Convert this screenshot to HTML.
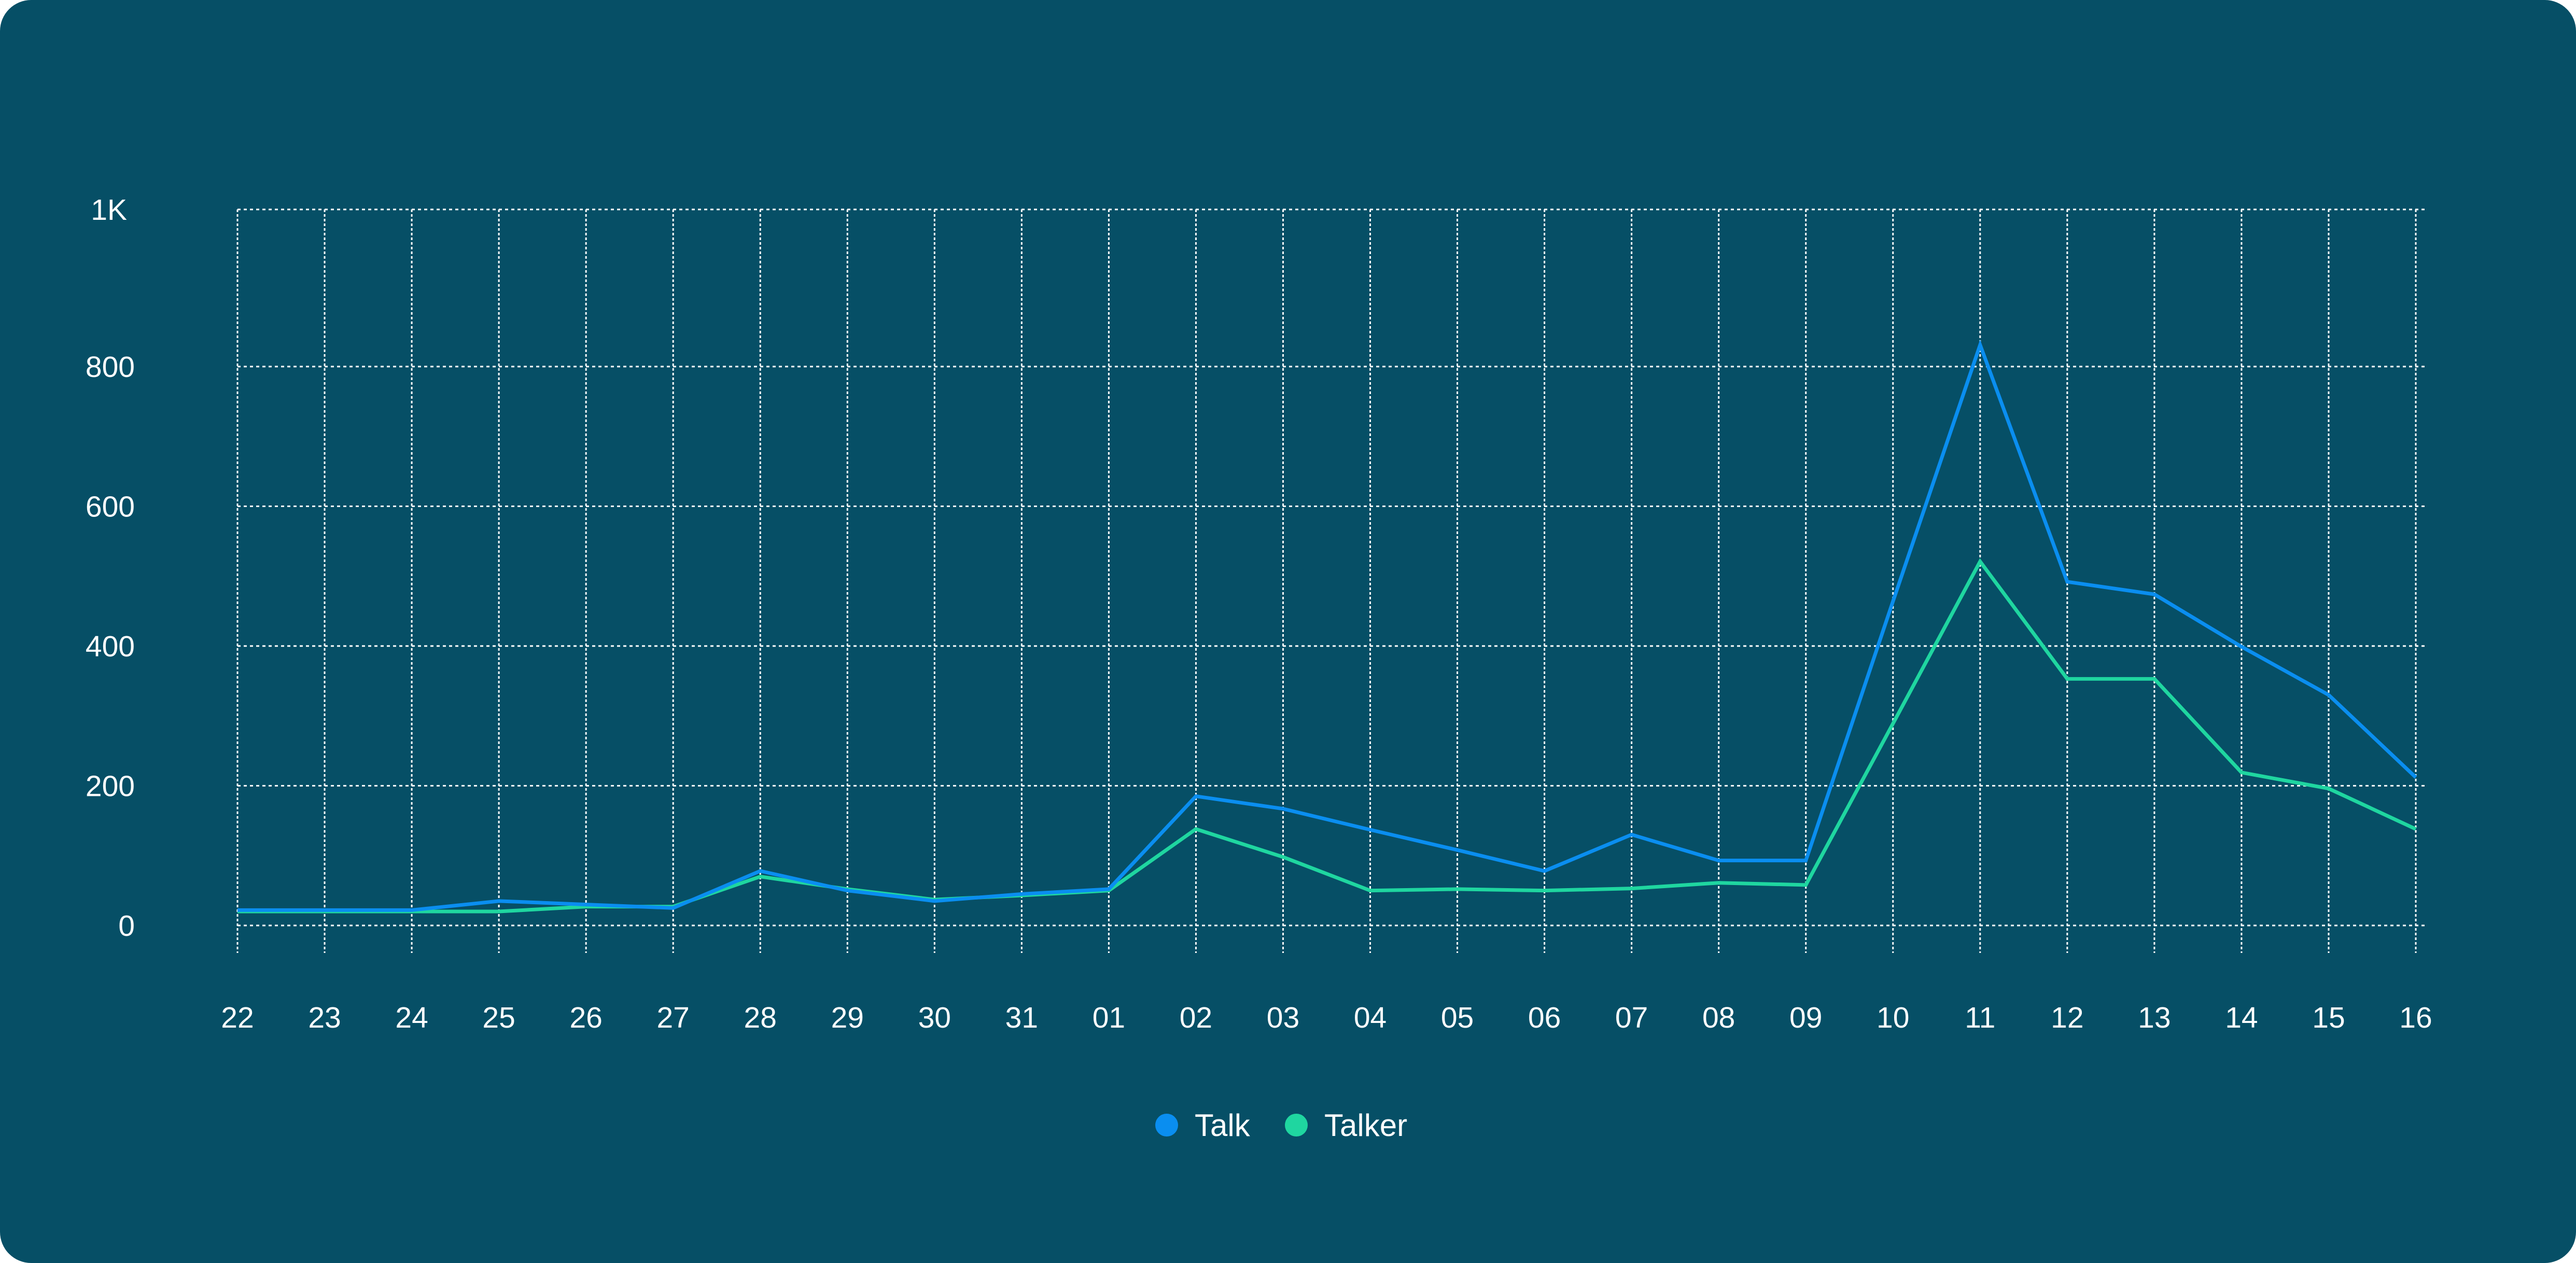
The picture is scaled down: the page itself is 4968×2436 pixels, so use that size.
<!DOCTYPE html>
<html><head><meta charset="utf-8"><style>
html,body{margin:0;padding:0;background:#fff;}
#card{position:absolute;left:0;top:0;width:4968px;height:2436px;background:#064f66;border-radius:60px;overflow:hidden;}
svg text{font-family:"Liberation Sans",sans-serif;fill:#fff;}
</style></head><body>
<div id="card">
<svg id="chart" width="4968" height="2436"></svg>
</div>
<script>
const categories=["22","23","24","25","26","27","28","29","30","31","01","02","03","04","05","06","07","08","09","10","11","12","13","14","15","16"];
const talkValues=[22,22,22,35,30,25,78,50,35,45,52,185,167,137,108,78,130,93,93,464,831,492,474,399,330,212];
const talkerValues=[20,20,20,20,27,27,70,52,37,43,50,138,98,50,52,50,53,61,58,289,521,353,353,219,196,138];
const yTicks=[0,200,400,600,800];
const yTickLabels=["0","200","400","600","800"];
(function(){
const NS="http://www.w3.org/2000/svg";
const svg=document.getElementById('chart');
const X0=458,X1=4659,Y0=1785,PX_PER_UNIT=1.3475,TOPY=404;
const xPos=i=>X0+i*(X1-X0)/(categories.length-1);
const yPos=v=>Y0-v*PX_PER_UNIT;
function mk(tag,attrs){const e=document.createElementNS(NS,tag);for(const k in attrs)e.setAttribute(k,attrs[k]);svg.appendChild(e);return e;}
yTicks.forEach((v,i)=>{
  const l=mk('line',{x1:X0,x2:X1+20,y1:yPos(v),y2:yPos(v),stroke:'#fff','stroke-width':3,'stroke-dasharray':'6 6'});
  
  
  const t=mk('text',{x:260,y:yPos(v)+20,'font-size':57,'text-anchor':'end'});
  t.textContent=yTickLabels[i];
  
  
});
const topLine=mk('line',{x1:X0,x2:X1+20,y1:TOPY,y2:TOPY,stroke:'#fff','stroke-width':3,'stroke-dasharray':'6 6'});


const tt=mk('text',{x:245,y:TOPY+20,'font-size':57,'text-anchor':'end'});
tt.textContent='1K';


categories.forEach((c,i)=>{
  const l=mk('line',{x1:xPos(i),x2:xPos(i),y1:TOPY,y2:1838,stroke:'#fff','stroke-width':3,'stroke-dasharray':'5 4'});
  
  
  const t=mk('text',{x:xPos(i),y:1982,'font-size':57,'text-anchor':'middle'});
  t.textContent=c;
  
  
});
function series(vals,color,name){
  const p=mk('polyline',{points:vals.map((v,i)=>xPos(i)+','+yPos(v)).join(' '),fill:'none',stroke:color,'stroke-width':7,'stroke-linejoin':'miter'});
  
  
}
series(talkerValues,'#1fd6a0','talker-line');
series(talkValues,'#0a8ef0','talk-line');
})();
</script>
<svg width="4968" height="2436" style="position:absolute;left:0;top:0">
<g>
<circle cx="2250" cy="2170" r="22" fill="#0a8ef0"/>
<text x="2304" y="2191" font-size="60" font-family="Liberation Sans, sans-serif" fill="#fff">Talk</text></g>
<g>
<circle cx="2500" cy="2170" r="22" fill="#1fd6a0"/>
<text x="2554" y="2191" font-size="60" font-family="Liberation Sans, sans-serif" fill="#fff">Talker</text></g>
</svg>
</body></html>
